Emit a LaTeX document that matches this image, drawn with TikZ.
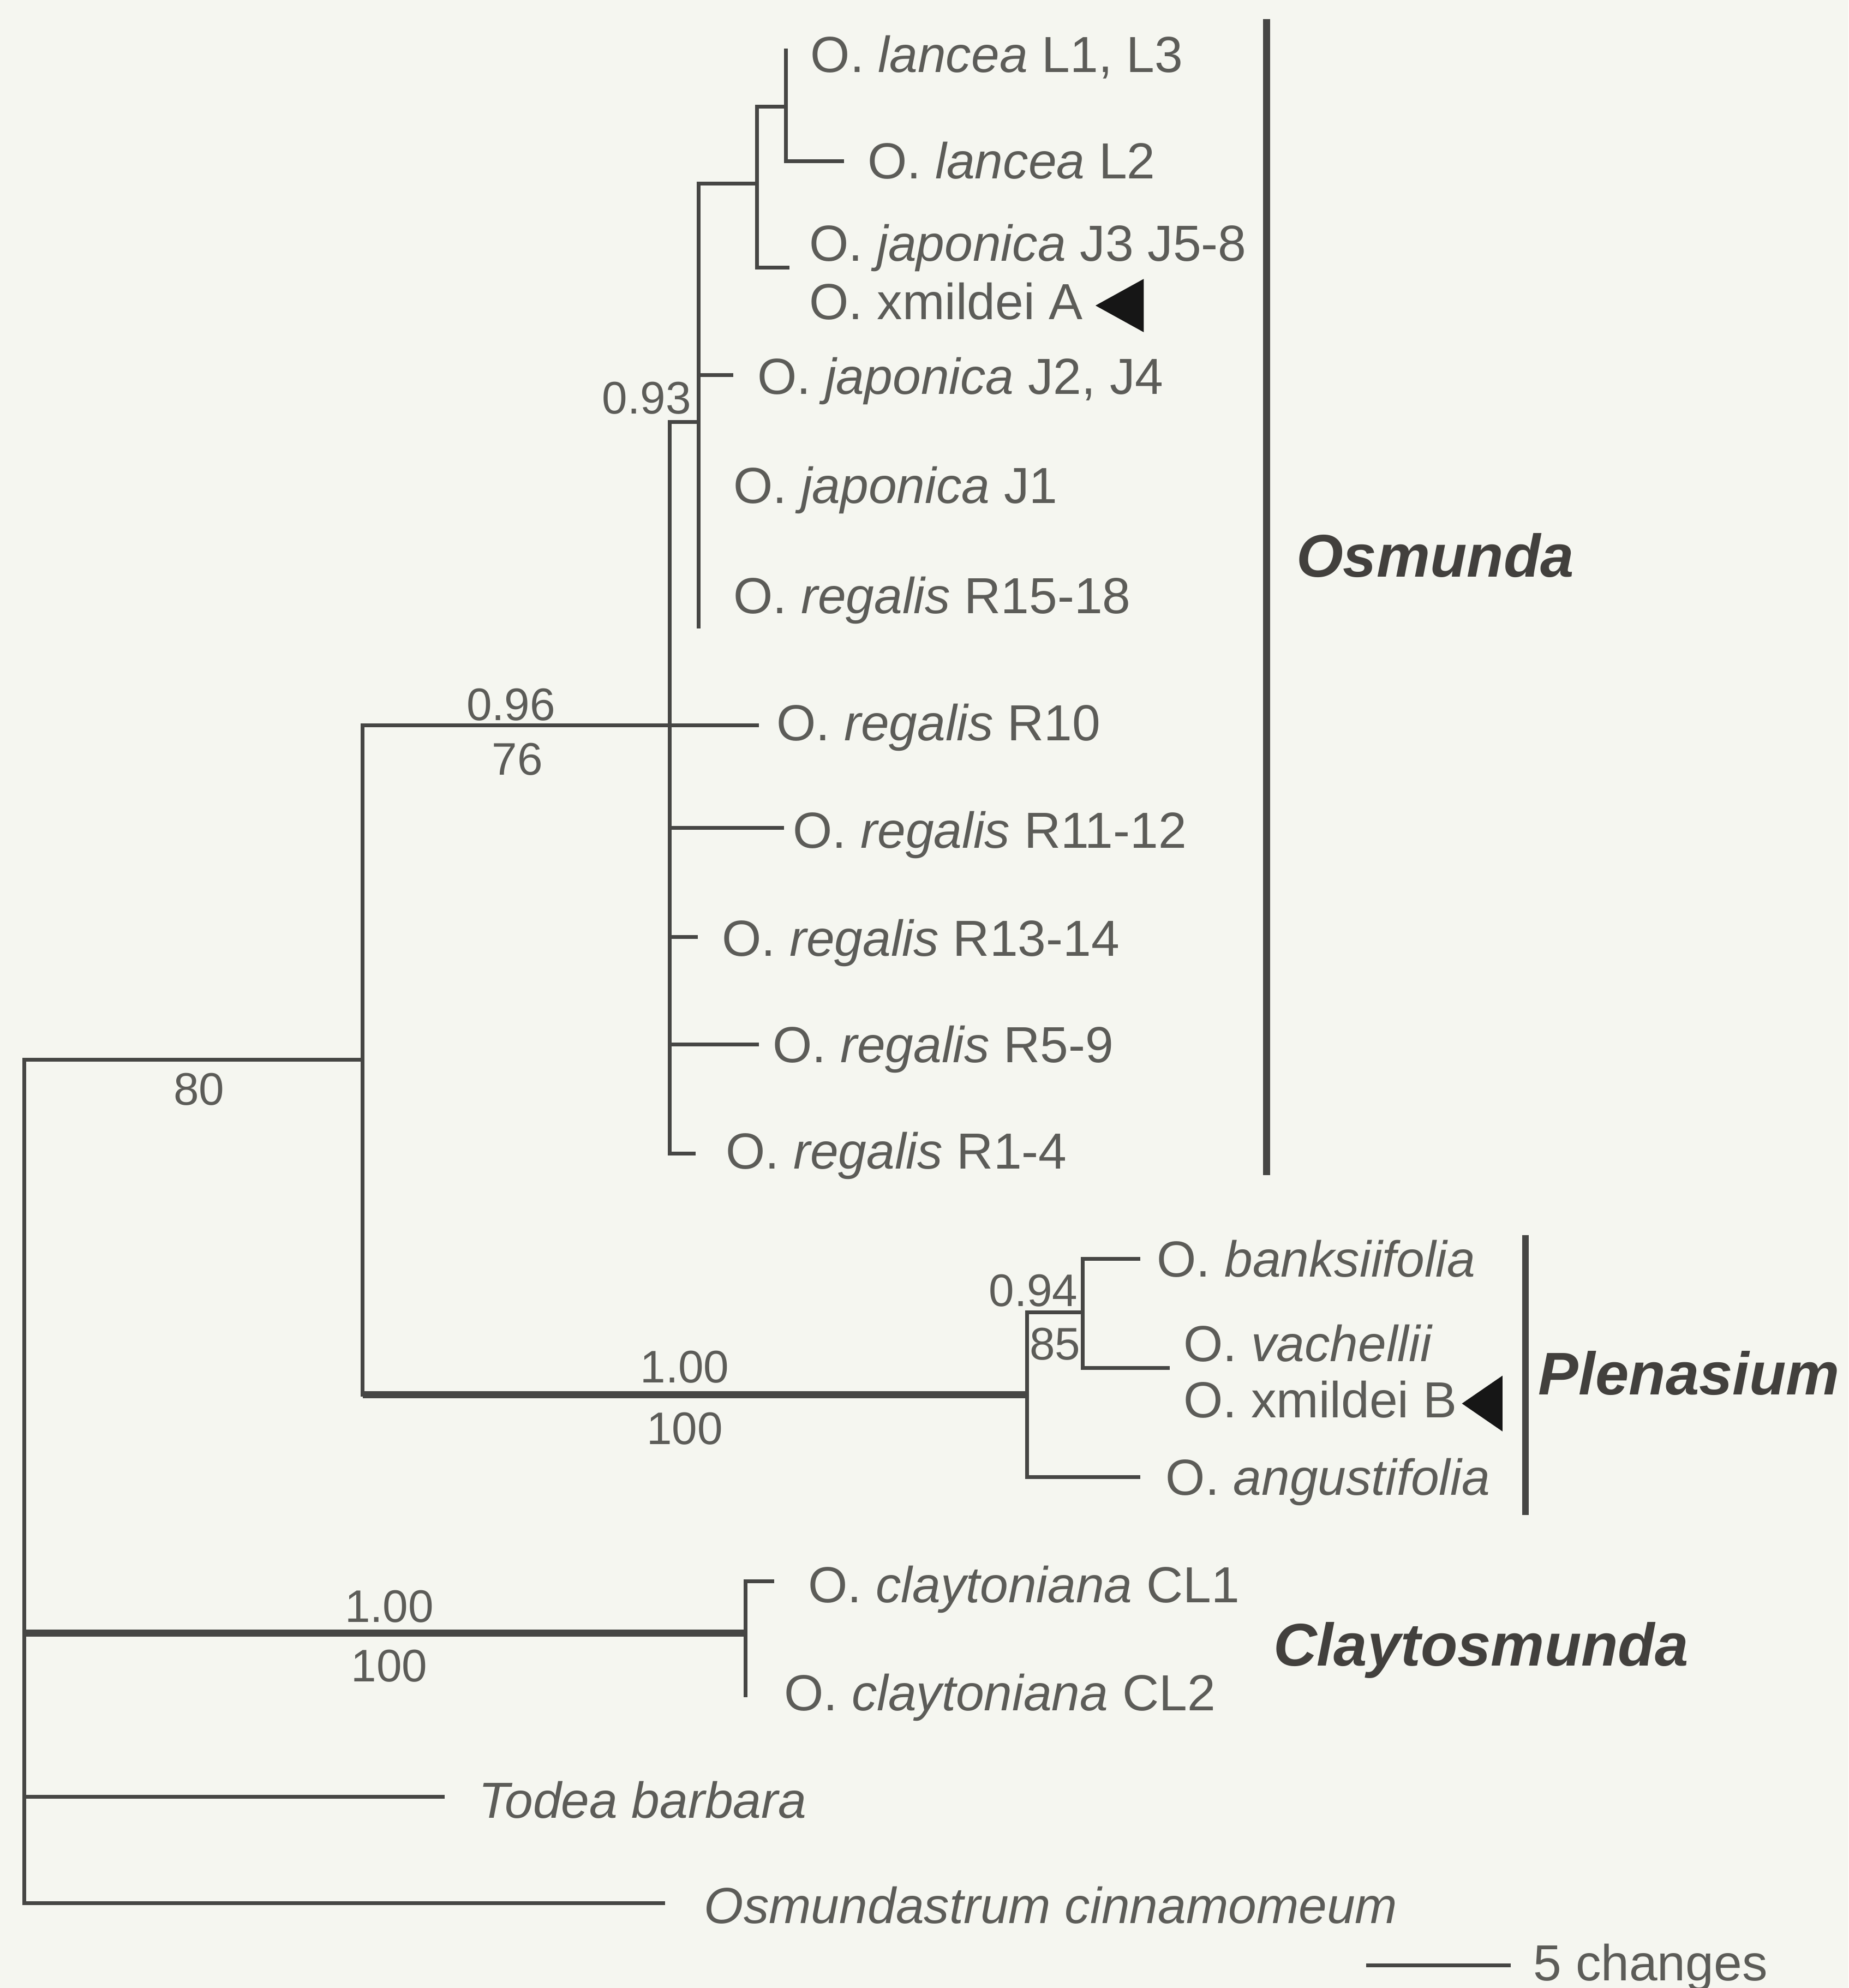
\documentclass[tikz,border=0pt]{standalone}
\usepackage{fontspec}
\setmainfont{Liberation Sans}
\definecolor{bgc}{RGB}{245,246,240}
\definecolor{linec}{RGB}{70,70,68}
\definecolor{txtc}{RGB}{92,92,88}
\definecolor{grpc}{RGB}{66,64,61}
\definecolor{tric}{RGB}{22,22,22}
\tikzset{
  br/.style={draw=linec, line width=1.5pt, line cap=rect},
  thickbr/.style={draw=linec, line width=2.9pt},
  cladebar/.style={draw=linec, line width=2.7pt},
  taxon/.style={anchor=base west, inner sep=0pt, text=txtc, font=\fontsize{20}{24}\selectfont},
  supp/.style={inner sep=0pt, text=txtc, font=\fontsize{18}{22}\selectfont},
  grp/.style={inner sep=0pt, text=grpc, font=\fontsize{23.75}{28}\selectfont\bfseries\itshape},
  marker/.style={fill=tric}
}
\begin{document}
\begin{tikzpicture}[x=0.5pt, y=-0.5pt]
\fill[bgc] (0,0) rectangle (1458,1568);
\useasboundingbox (0,0) rectangle (1458,1568);

% tree node coordinates
\coordinate (root) at (19,836);
\coordinate (n80) at (286,836);
\coordinate (nOsm) at (528,572);
\coordinate (n93) at (551,333);
\coordinate (nJL) at (597,145);
\coordinate (nL) at (620,84);
\coordinate (tL13) at (620,40);
\coordinate (tL2) at (664,127);
\coordinate (tJ3) at (621,211);
\coordinate (tJ2) at (577,296);
\coordinate (tJ1) at (551,383);
\coordinate (tR15) at (551,494);
\coordinate (tR10) at (597,572);
\coordinate (tR11) at (617,653);
\coordinate (tR13) at (549,739);
\coordinate (tR5) at (597,824);
\coordinate (tR1) at (547,910);
\coordinate (nPle) at (810,1100);
\coordinate (n94) at (854,1035);
\coordinate (tBan) at (898,993);
\coordinate (tVac) at (921,1079);
\coordinate (tAng) at (898,1165);
\coordinate (nCla) at (588,1288);
\coordinate (tCL1) at (609,1247);
\coordinate (tCL2) at (588,1337);
\coordinate (tTod) at (349,1417);
\coordinate (tOsm) at (523,1501);

% branches
\draw[br] (root) -- (n80);
\draw[br] (n80) |- (nOsm);
\draw[br] (n80) -- (n80 |- nPle);
\draw[thickbr] (n80 |- nPle) -- (nPle);
\draw[br] (nOsm) |- (n93);
\draw[br] (nOsm) -- (tR10);
\draw[br] (nOsm) |- (tR11);
\draw[br] (nOsm) |- (tR13);
\draw[br] (nOsm) |- (tR5);
\draw[br] (nOsm) |- (tR1);
\draw[br] (n93) |- (nJL);
\draw[br] (n93) |- (tJ2);
\draw[br] (n93) -- (tJ1);
\draw[br] (n93) -- (tR15);
\draw[br] (nJL) |- (nL);
\draw[br] (nJL) |- (tJ3);
\draw[br] (nL) -- (tL13);
\draw[br] (nL) |- (tL2);
\draw[br] (nPle) |- (n94);
\draw[br] (nPle) |- (tAng);
\draw[br] (n94) |- (tBan);
\draw[br] (n94) |- (tVac);
\draw[br] (root) -- (root |- nCla);
\draw[thickbr] (root |- nCla) -- (nCla);
\draw[br] (nCla) |- (tCL1);
\draw[br] (nCla) -- (tCL2);
\draw[br] (root) |- (tTod);
\draw[br] (root) |- (tOsm);

% taxon labels
\node[taxon] (lL13) at (639,57) {O. \textit{lancea} L1, L3};
\node[taxon] (lL2) at (684,141) {O. \textit{lancea} L2};
\node[taxon] (lJ3) at (638,206) {O. \textit{japonica} J3 J5-8};
\node[taxon] (lXA) at (638,252) {O. xmildei A};
\node[taxon] (lJ2) at (597,311) {O. \textit{japonica} J2, J4};
\node[taxon] (lJ1) at (578,397) {O. \textit{japonica} J1};
\node[taxon] (lR15) at (578,484) {O. \textit{regalis} R15-18};
\node[taxon] (lR10) at (612,584) {O. \textit{regalis} R10};
\node[taxon] (lR11) at (625,669) {O. \textit{regalis} R11-12};
\node[taxon] (lR13) at (569,754) {O. \textit{regalis} R13-14};
\node[taxon] (lR5) at (609,838) {O. \textit{regalis} R5-9};
\node[taxon] (lR1) at (572,922) {O. \textit{regalis} R1-4};
\node[taxon] (lBan) at (912,1007) {O. \textit{banksiifolia}};
\node[taxon] (lVac) at (933,1074) {O. \textit{vachellii}};
\node[taxon] (lXB) at (933,1118) {O. xmildei B};
\node[taxon] (lAng) at (919,1179) {O. \textit{angustifolia}};
\node[taxon] (lCL1) at (637,1264) {O. \textit{claytoniana} CL1};
\node[taxon] (lCL2) at (618,1349) {O. \textit{claytoniana} CL2};
\node[taxon] (lTod) at (377,1434) {\textit{Todea barbara}};
\node[taxon] (lOsm) at (555,1517) {\textit{Osmundastrum cinnamomeum}};

% support values
\node[supp] (s93) at (510,314) {0.93};
\node[supp] (s96) at (403,556) {0.96};
\node[supp] (s76) at (408,599) {76};
\node[supp] (s80) at (157,859) {80};
\node[supp] (s94) at (815,1018) {0.94};
\node[supp] (s85) at (832,1060) {85};
\node[supp] (sP1) at (540,1078) {1.00};
\node[supp] (sP2) at (540,1127) {100};
\node[supp] (sC1) at (307,1267) {1.00};
\node[supp] (sC2) at (307,1314) {100};

% hybrid markers
\fill[marker] (864,241) -- (902,220) -- (902,262) -- cycle;
\fill[marker] (1153,1107) -- (1185,1085) -- (1185,1129) -- cycle;

% clade bars and names
\coordinate (osmTop) at (999,15);
\coordinate (osmBot) at (999,927);
\draw[cladebar] (osmTop) -- (osmBot);
\coordinate (pleTop) at (1203,974);
\coordinate (pleBot) at (1203,1195);
\draw[cladebar] (pleTop) -- (pleBot);
\node[grp, anchor=west] (gOsm) at (1022,438) {Osmunda};
\node[grp, anchor=west] (gPle) at (1213,1083) {Plenasium};
\node[grp, anchor=base west] (gCla) at (1004,1314) {Claytosmunda};

% scale bar
\coordinate (sbL) at (1079,1550);
\coordinate (sbR) at (1190,1550);
\draw[br] (sbL) -- (sbR);
\node[taxon] (lScale) at (1209,1562) {5 changes};
\end{tikzpicture}
\end{document}
